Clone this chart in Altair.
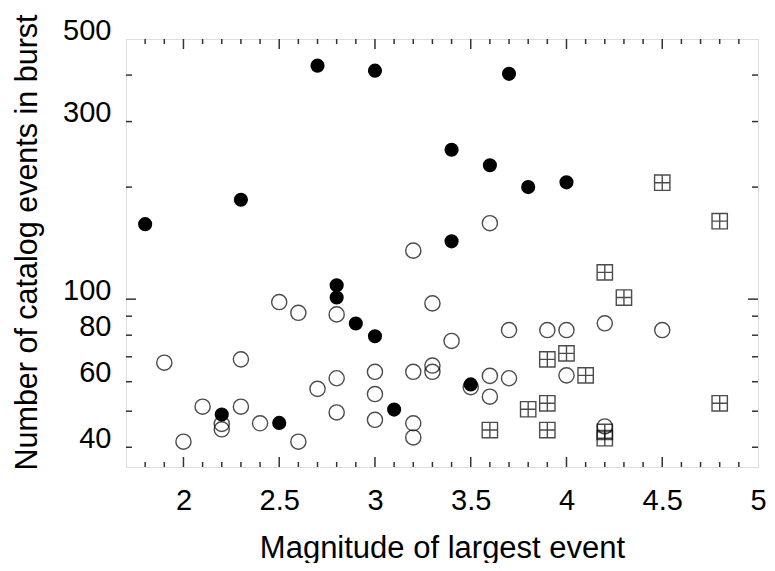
import altair as alt
import pandas as pd

# ---- data ----
filled_x = [1.8, 2.3, 2.7, 3.0, 3.7, 3.4, 3.6, 3.8, 4.0, 3.4, 2.8, 2.8, 2.9, 3.0, 2.2, 2.5, 3.1, 3.5]
filled_y = [159, 185, 424, 411, 403, 252, 229, 200, 206, 143, 109, 101, 86, 79.5, 49, 46.5, 50.5, 59]

open_x = [1.9, 2.0, 2.1, 2.2, 2.2, 2.3, 2.3, 2.4, 2.5, 2.6, 2.6, 2.7, 2.8, 2.8, 2.8,
          3.0, 3.0, 3.0, 3.2, 3.2, 3.2, 3.2, 3.3, 3.3, 3.3, 3.4, 3.5, 3.6, 3.6, 3.6,
          3.7, 3.7, 3.9, 4.0, 4.0, 4.2, 4.2, 4.5]
open_y = [67.5, 41.4, 51.4, 46.2, 44.7, 68.9, 51.4, 46.4, 98.2, 41.4, 91.9, 57.4, 91, 61.3, 49.6,
          63.8, 55.6, 47.4, 135, 63.8, 46.4, 42.5, 97.4, 66.3, 63.8, 77.2, 58, 160, 62.2, 54.7,
          82.6, 61.3, 82.6, 82.6, 62.4, 86.1, 45.5, 82.6]

square_x = [4.5, 4.8, 4.2, 4.3, 3.9, 4.0, 4.1, 3.8, 3.9, 4.8, 3.6, 3.9, 4.2, 4.2]
square_y = [205.5, 162, 118, 101, 68.9, 71.5, 62.4, 50.6, 52.5, 52.5, 44.5, 44.5, 44.0, 42.3]

x_label_values = [2, 2.5, 3, 3.5, 4, 4.5, 5]
y_label_values = [40, 60, 80, 100, 300, 500]
x_major_ticks = [2, 2.5, 3, 3.5, 4, 4.5]
x_minor_ticks = [1.8, 1.9, 2.1, 2.2, 2.3, 2.4, 2.6, 2.7, 2.8, 2.9, 3.1, 3.2, 3.3, 3.4,
                 3.6, 3.7, 3.8, 3.9, 4.1, 4.2, 4.3, 4.4, 4.6, 4.7, 4.8, 4.9]
y_major_ticks = [100]
y_minor_ticks = [40, 50, 60, 70, 80, 90, 200, 300, 400]

W, H = 632, 428
FONT = "Liberation Sans"
FRAME = "#333333"

df_f = pd.DataFrame({"m": filled_x, "n": filled_y})
df_o = pd.DataFrame({"m": open_x, "n": open_y})
df_s = pd.DataFrame({"m": square_x, "n": square_y})

xs = alt.Scale(domain=[1.7, 5.0], nice=False, zero=False)
ys = alt.Scale(type="log", domain=[35.4, 500], nice=False)

x_axis = alt.Axis(values=x_label_values, ticks=False, tickSize=0, domain=False, grid=False,
                  labelFont=FONT, labelFontSize=29, labelColor="black", labelPadding=19,
                  labelFlush=False, labelOverlap=False, format="~g",
                  titleFont=FONT, titleFontSize=31,
                  titleFontWeight="normal", titleColor="black", titleBaseline="alphabetic",
                  titleY=90, titleX=W / 2)
y_axis = alt.Axis(values=y_label_values, ticks=False, tickSize=0, domain=False, grid=False,
                  labelFont=FONT, labelFontSize=29, labelColor="black", labelPadding=15,
                  labelBaseline="alphabetic", labelFlush=False, labelOverlap=False,
                  format="d",
                  titleFont=FONT, titleFontSize=30.5,
                  titleFontWeight="normal", titleColor="black", titleBaseline="alphabetic",
                  titleX=-90, titleY=203)
XT = "Magnitude of largest event"
YT = "Number of catalog events in burst"


def X(field):
    return alt.X(field, scale=xs, axis=x_axis, title=XT)


def Y(field):
    return alt.Y(field, scale=ys, axis=y_axis, title=YT)


open_layer = alt.Chart(df_o).mark_point(shape="circle", filled=False, color="black",
                                        strokeWidth=1.4, size=230).encode(
    x=X("m:Q"), y=Y("n:Q"))
square_layer = alt.Chart(df_s).mark_point(
    shape="M-1,-1L1,-1L1,1L-1,1Z M0,-1L0,1 M-1,0L1,0",
    filled=False, color="black", strokeWidth=1.4, size=235).encode(
    x=X("m:Q"), y=Y("n:Q"))
filled_layer = alt.Chart(df_f).mark_point(shape="circle", filled=True, color="black",
                                          opacity=1, size=200).encode(
    x=X("m:Q"), y=Y("n:Q"))


def xticks(vals, length):
    d = pd.DataFrame({"v": vals})
    bottom = alt.Chart(d).mark_rule(color=FRAME, strokeWidth=1.5).encode(
        x=X("v:Q"), y=alt.value(H), y2=alt.value(H - length))
    top = alt.Chart(d).mark_rule(color=FRAME, strokeWidth=1.5).encode(
        x=X("v:Q"), y=alt.value(0), y2=alt.value(length))
    return [bottom, top]


def yticks(vals, length):
    d = pd.DataFrame({"v": vals})
    left = alt.Chart(d).mark_rule(color=FRAME, strokeWidth=1.5).encode(
        y=Y("v:Q"), x=alt.value(0), x2=alt.value(length))
    right = alt.Chart(d).mark_rule(color=FRAME, strokeWidth=1.5).encode(
        y=Y("v:Q"), x=alt.value(W), x2=alt.value(W - length))
    return [left, right]


tick_layers = xticks(x_major_ticks, 10) + xticks(x_minor_ticks, 5) + \
    yticks(y_major_ticks, 10) + yticks(y_minor_ticks, 6)

chart = alt.layer(open_layer, square_layer, filled_layer, *tick_layers).properties(
    width=W, height=H,
    autosize=alt.AutoSizeParams(type="none"),
    padding={"left": 118, "top": 31, "right": 9, "bottom": 96},
).configure_view(stroke=FRAME, strokeWidth=1.6).configure(background="white")

chart.save("out.html", embed_options={"renderer": "svg", "actions": False})
